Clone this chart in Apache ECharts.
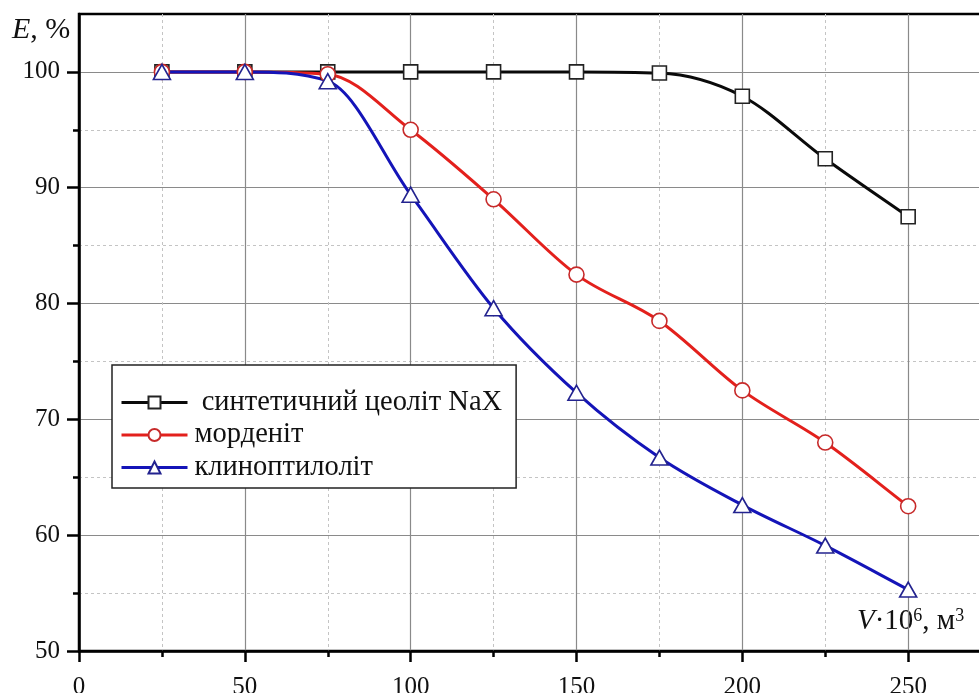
<!DOCTYPE html>
<html>
<head>
<meta charset="utf-8">
<script src="https://cdn.jsdelivr.net/npm/echarts@6/dist/echarts.min.js"></script>
<style>
html,body{margin:0;padding:0;background:#fff;overflow:hidden;}
#chart{width:1074px;height:693px;}
</style>
</head>
<body>
<div id="chart"></div>
<script>
// ---- data ----
const volumes = [25, 50, 75, 100, 125, 150, 175, 200, 225, 250];
const seriesNames = [' синтетичний цеоліт NaX', 'морденіт', 'клиноптилоліт'];
const naxValues = [100, 100, 100, 100, 100, 100, 99.9, 97.9, 92.5, 87.5];
const mordeniteValues = [100, 100, 99.8, 95.0, 89.0, 82.5, 78.5, 72.5, 68.0, 62.5];
const clinoValues = [100, 100, 99.2, 89.4, 79.6, 72.3, 66.7, 62.6, 59.1, 55.3];
const yMajorTicks = [50, 60, 70, 80, 90, 100];
const yMinorTicks = [55, 65, 75, 85, 95];

const pairs = (vals) => volumes.map((v, i) => [v, vals[i]]);

const FONT = '"Liberation Serif", "Times New Roman", serif';
const chart = echarts.init(document.getElementById('chart'), null, {renderer: 'canvas'});

// monotone (Fritsch–Carlson) tangents so the drawn curve never overshoots
function monotoneTangents(xs, ys) {
  const n = xs.length;
  const d = [];
  for (let k = 0; k < n - 1; k++) d.push((ys[k + 1] - ys[k]) / (xs[k + 1] - xs[k]));
  const m = new Array(n);
  m[0] = d[0];
  m[n - 1] = d[n - 2];
  for (let k = 1; k < n - 1; k++) {
    m[k] = (d[k - 1] * d[k] <= 0) ? 0 : (d[k - 1] + d[k]) / 2;
  }
  for (let k = 0; k < n - 1; k++) {
    if (d[k] === 0) { m[k] = 0; m[k + 1] = 0; continue; }
    const a = m[k] / d[k], b = m[k + 1] / d[k];
    const s = a * a + b * b;
    if (s > 9) {
      const t = 3 / Math.sqrt(s);
      m[k] = t * a * d[k];
      m[k + 1] = t * b * d[k];
    }
  }
  return m;
}

// symbols (and legend entries)
const markerSeries = (name, vals, color, symbol, size, borderColor) => ({
  type: 'line',
  name: name,
  data: pairs(vals),
  symbol: symbol,
  symbolSize: size,
  showAllSymbol: true,
  lineStyle: {color: color, width: 0, opacity: 0},
  itemStyle: {color: '#fff', borderColor: borderColor, borderWidth: 1.6},
  emphasis: {disabled: true},
  z: 3,
  animation: false
});

// smooth curve through the data points, positioned with the axes' scales
const curveSeries = (name, vals, color) => {
  const m = monotoneTangents(volumes, vals);
  return {
    type: 'custom',
    name: name + ' (curve)',
    data: pairs(vals),
    encode: {x: 0, y: 1},
    z: 2,
    silent: true,
    animation: false,
    renderItem: function (params, api) {
      const i = params.dataIndex;
      if (i >= vals.length - 1) return null;
      const x0 = volumes[i], x1 = volumes[i + 1], h = x1 - x0;
      const p1 = api.coord([x0, vals[i]]);
      const p2 = api.coord([x1, vals[i + 1]]);
      const c1 = api.coord([x0 + h / 3, vals[i] + m[i] * h / 3]);
      const c2 = api.coord([x1 - h / 3, vals[i + 1] - m[i + 1] * h / 3]);
      return {
        type: 'bezierCurve',
        shape: {x1: p1[0], y1: p1[1], x2: p2[0], y2: p2[1],
                cpx1: c1[0], cpy1: c1[1], cpx2: c2[0], cpy2: c2[1]},
        style: {stroke: color, lineWidth: 3, fill: 'none', lineCap: 'round'}
      };
    }
  };
};

chart.setOption({
  backgroundColor: '#fff',
  animation: false,
  textStyle: {fontFamily: FONT},
  grid: {
    left: 79, top: 14, bottom: 42, right: 0,
    outerBoundsMode: 'none',
    containLabel: false,
    show: true, borderColor: '#000', borderWidth: 2.5, backgroundColor: 'transparent'
  },
  xAxis: [{
    type: 'value',
    min: 0, max: 300, interval: 50,
    axisLine: {show: true, onZero: false, lineStyle: {color: '#000', width: 2.5}},
    axisTick: {show: true, inside: false, length: 11, lineStyle: {color: '#000', width: 2.5}},
    minorTick: {show: true, splitNumber: 2, length: 6, lineStyle: {color: '#000', width: 2.5}},
    axisLabel: {show: true, margin: 24, fontSize: 25, color: '#111', fontFamily: FONT},
    splitLine: {show: true, lineStyle: {color: '#8a8a8a', width: 1.2}},
    minorSplitLine: {show: true, lineStyle: {color: '#c4c4c4', width: 1, type: [3, 3]}}
  }],
  yAxis: [{
    type: 'value',
    min: 50, max: 105, interval: 10,
    position: 'left',
    axisLine: {show: true, onZero: false, lineStyle: {color: '#000', width: 2.5}},
    axisTick: {show: true, length: 12, customValues: yMajorTicks, lineStyle: {color: '#000', width: 2.5}},
    axisLabel: {show: true, margin: 19, fontSize: 25, color: '#111', fontFamily: FONT, customValues: yMajorTicks},
    splitLine: {show: true, lineStyle: {color: '#8a8a8a', width: 1.2}}
  }, {
    type: 'value',
    min: 50, max: 105, interval: 5,
    position: 'left',
    axisLine: {show: false},
    axisTick: {show: true, length: 6, customValues: yMinorTicks, lineStyle: {color: '#000', width: 2.5}},
    axisLabel: {show: false},
    splitLine: {show: true, lineStyle: {color: '#c4c4c4', width: 1, type: [3, 3]}}
  }],
  legend: {
    show: true,
    orient: 'vertical',
    left: 112, top: 365,
    padding: [23, 14, 6, 8],
    itemWidth: 66, itemHeight: 15,
    itemGap: 3.5,
    backgroundColor: '#fff',
    borderColor: '#222', borderWidth: 1.5,
    selectedMode: false,
    lineStyle: {width: 3, opacity: 1},
    textStyle: {fontFamily: FONT, fontSize: 28.5, color: '#111', lineHeight: 29, padding: [0, 0, 0, 2]},
    data: seriesNames
  },
  graphic: [{
    type: 'text', left: 12, top: 15,
    style: {
      text: '{i|E}{n|, %}',
      rich: {
        i: {fontFamily: FONT, fontSize: 30, fontStyle: 'italic', fill: '#111'},
        n: {fontFamily: FONT, fontSize: 30, fill: '#111'}
      }
    }
  }, {
    type: 'text', left: 857, top: 604,
    style: {
      text: '{i|V}{n|·10}{s|6}{n|, м}{s|3}',
      rich: {
        i: {fontFamily: FONT, fontSize: 29, fontStyle: 'italic', fill: '#111', lineHeight: 32, verticalAlign: 'bottom'},
        n: {fontFamily: FONT, fontSize: 29, fill: '#111', lineHeight: 32, verticalAlign: 'bottom'},
        s: {fontFamily: FONT, fontSize: 18, fill: '#111', lineHeight: 32, verticalAlign: 'top', padding: [3, 0, 0, 0]}
      }
    }
  }],
  series: [
    curveSeries(seriesNames[0], naxValues, '#0a0a0a'),
    curveSeries(seriesNames[1], mordeniteValues, '#e3201c'),
    curveSeries(seriesNames[2], clinoValues, '#1414b8'),
    markerSeries(seriesNames[0], naxValues, '#0a0a0a', 'rect', 14, '#222'),
    markerSeries(seriesNames[1], mordeniteValues, '#e3201c', 'circle', 15, '#c72a2a'),
    markerSeries(seriesNames[2], clinoValues, '#1414b8', 'triangle', [17, 15], '#23238f')
  ]
});
</script>
</body>
</html>
